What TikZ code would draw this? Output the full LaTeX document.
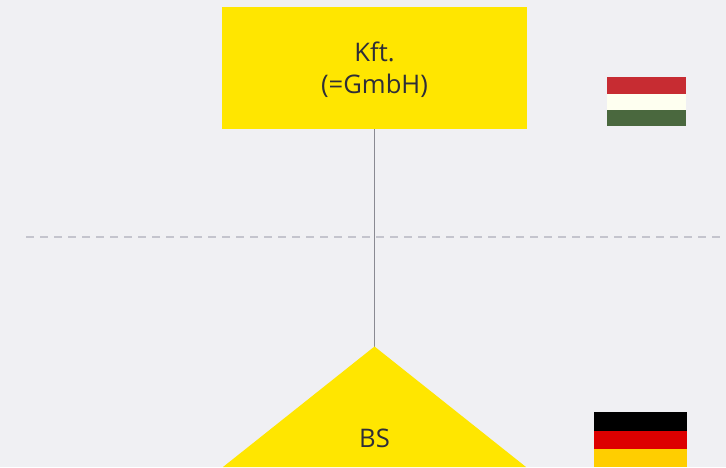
\documentclass[tikz,border=0pt]{standalone}
\usepackage{fontspec}
\setmainfont{Open Sans}
\definecolor{bgc}{HTML}{F0F0F3}
\definecolor{eyy}{HTML}{FFE600}
\definecolor{ink}{HTML}{2E2E38}
\definecolor{huR}{HTML}{C72C32}
\definecolor{huW}{HTML}{FEFFF0}
\definecolor{huG}{HTML}{4A683E}
\definecolor{deR}{HTML}{DD0000}
\definecolor{deY}{HTML}{FFCE00}
\definecolor{dashc}{HTML}{C4C4CD}
\definecolor{linec}{HTML}{8A8A92}
\tikzset{
  x=1pt,y=-1pt,
  labeltext/.style={text=ink,font=\fontsize{25.6}{32}\selectfont,align=center,inner sep=0pt},
  boxshape/.style={fill=eyy,draw=none,minimum width=305pt,minimum height=122pt,inner sep=0pt,outer sep=0pt},
  link/.style={draw=linec,line width=1pt},
  divider/.style={draw=dashc,line width=2.2pt,dash pattern=on 8pt off 6pt},
}
\begin{document}
\begin{tikzpicture}
\useasboundingbox (0,0) rectangle (726,467);
\fill[bgc] (0,0) rectangle (726,467);
\draw[divider] (26,237) -- (726,237);
\coordinate (apex) at (374.5,346.5);
\coordinate (baseL) at (223,467);
\coordinate (baseR) at (526,467);
\node[boxshape] (kft) at (374.5,68) {};
\draw[link] (kft.south) -- (apex);
\fill[eyy] (apex) -- (baseR) -- (baseL) -- cycle;
\node[labeltext] (kfttext) at (374.5,70) {Kft.\\(=GmbH)};
\node[labeltext] (bs) at (374.5,438.5) {BS};
\fill[huR] (607,77) rectangle (686,93.5);
\fill[huW] (607,93.5) rectangle (686,109.8);
\fill[huG] (607,109.8) rectangle (686,126);
\fill[black] (594,412) rectangle (687,430.5);
\fill[deR] (594,430.5) rectangle (687,449.3);
\fill[deY] (594,449.3) rectangle (687,467);
\end{tikzpicture}
\end{document}
